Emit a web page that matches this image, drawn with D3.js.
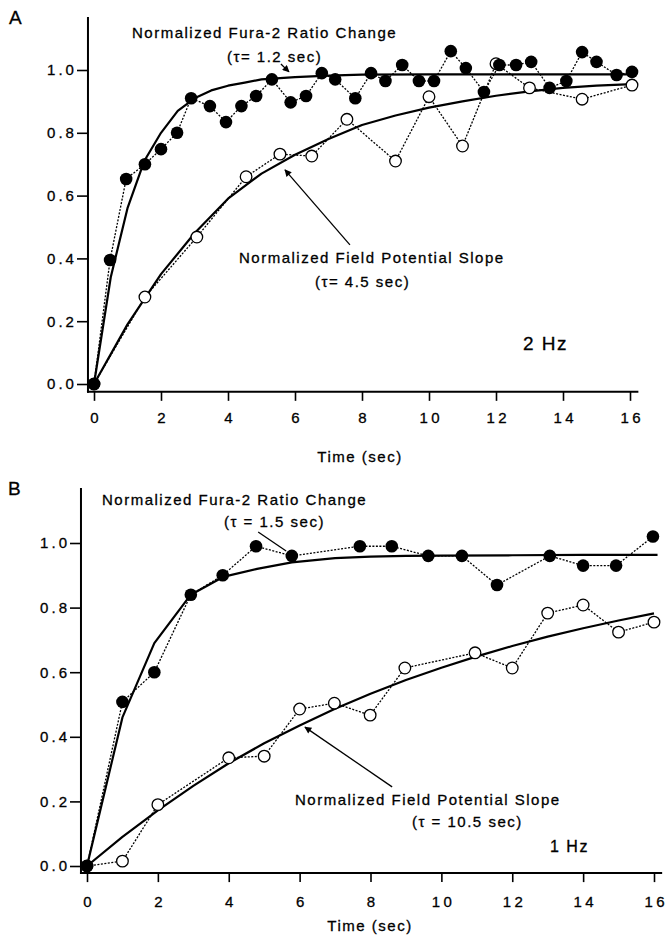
<!DOCTYPE html>
<html><head><meta charset="utf-8">
<script src="https://cdn.jsdelivr.net/npm/d3@7"></script>
<style>
body{margin:0;background:#fff;}
svg text{font-family:"Liberation Sans",Arial,Helvetica,sans-serif;fill:#000;stroke:#000;stroke-width:0.3px;}
</style></head><body>
<svg id="c" width="668" height="939"></svg>
<script>
// ---------- DATA ----------
const xTicks = [0, 2, 4, 6, 8, 10, 12, 14, 16];
const yTicks = [0, 0.2, 0.4, 0.6, 0.8, 1.0];
const yTickLabels = ["0.0", "0.2", "0.4", "0.6", "0.8", "1.0"];
const xLabel = "Time (sec)";

// Panel A (2 Hz)
const aFuraT = [0, 0.48, 0.96, 1.52, 2.0, 2.48, 2.9, 3.46, 3.94, 4.4, 4.84, 5.31, 5.87, 6.33, 6.8, 7.2, 7.8, 8.27, 8.7, 9.2, 9.7, 10.15, 10.65, 11.1, 11.64, 12.1, 12.6, 13.05, 13.6, 14.1, 14.57, 15.0, 15.6, 16.06];
const aFuraV = [0, 0.395, 0.653, 0.70, 0.748, 0.80, 0.91, 0.885, 0.834, 0.885, 0.917, 0.97, 0.897, 0.917, 0.99, 0.97, 0.91, 0.99, 0.965, 1.016, 0.965, 0.965, 1.06, 1.006, 0.93, 1.016, 1.016, 1.026, 0.943, 0.965, 1.057, 1.026, 0.984, 0.994];
const aFieldT = [0, 1.52, 3.07, 4.54, 5.55, 6.5, 7.55, 9.0, 10.0, 11.0, 12.0, 13.0, 14.57, 16.06];
const aFieldV = [0, 0.277, 0.468, 0.66, 0.732, 0.726, 0.843, 0.71, 0.915, 0.758, 1.02, 0.943, 0.907, 0.952];
const aFuraFitT = [0, 0.5, 1, 1.5, 2, 2.5, 3, 3.5, 4, 4.5, 5, 6, 7, 8, 10, 12, 14, 16.06];
const aFuraFitV = [0, 0.34, 0.56, 0.71, 0.80, 0.87, 0.91, 0.935, 0.95, 0.96, 0.97, 0.977, 0.982, 0.985, 0.986, 0.986, 0.986, 0.986];
const aFieldFitT = [0, 1, 2, 3, 4, 5, 6, 7, 8, 9, 10, 11, 12, 13, 14, 15, 16.06];
const aFieldFitV = [0, 0.19, 0.35, 0.48, 0.59, 0.67, 0.73, 0.78, 0.825, 0.855, 0.88, 0.90, 0.918, 0.932, 0.943, 0.95, 0.955];

// Panel B (1 Hz)
const bFuraT = [0, 1.0, 1.9, 2.93, 3.83, 4.77, 5.78, 7.7, 8.6, 9.63, 10.58, 11.57, 13.06, 14.0, 14.93, 15.97];
const bFuraV = [0, 0.508, 0.60, 0.84, 0.90, 0.99, 0.96, 0.99, 0.99, 0.96, 0.96, 0.87, 0.96, 0.93, 0.93, 1.02];
const bFieldT = [0, 1.0, 2.0, 4.0, 5.0, 6.0, 6.98, 7.99, 8.97, 10.95, 12.0, 13.0, 14.0, 15.0, 16.0];
const bFieldV = [0, 0.015, 0.19, 0.335, 0.34, 0.486, 0.504, 0.467, 0.613, 0.66, 0.613, 0.783, 0.808, 0.724, 0.755];
const bFuraFitT = [0, 1, 1.9, 2.93, 3.84, 4.8, 5.78, 7, 8, 9, 10, 12, 14, 16.1];
const bFuraFitV = [0, 0.46, 0.69, 0.84, 0.895, 0.92, 0.94, 0.953, 0.958, 0.96, 0.961, 0.962, 0.963, 0.963];
const bFieldFitT = [0, 1, 2, 3, 4, 5, 6, 7, 8, 9, 10, 11, 12, 13, 14, 15, 16];
const bFieldFitV = [0, 0.09, 0.172, 0.248, 0.318, 0.38, 0.435, 0.487, 0.533, 0.576, 0.614, 0.649, 0.681, 0.71, 0.736, 0.76, 0.782];

// ---------- LAYOUT ----------
const panels = [
  {
    letter: "A", letterPos: [9, 24],
    xr: [94, 630], yr: [384, 70], axisLeftT: -0.18, axisRightT: 16.25, axisTopV: 1.169, axisBotV: -0.025,
    fura: [aFuraT, aFuraV], field: [aFieldT, aFieldV], furaFit: [aFuraFitT, aFuraFitV], fieldFit: [aFieldFitT, aFieldFitV],
    texts: [
      {s: "Normalized Fura-2 Ratio Change", x: 132, y: 38, size: 15},
      {s: "(\u03C4= 1.2 sec)", x: 227, y: 62, size: 15},
      {s: "Normalized Field Potential Slope", x: 239, y: 263, size: 15},
      {s: "(\u03C4= 4.5 sec)", x: 315, y: 287, size: 15},
      {s: "2 Hz", x: 523, y: 350, size: 19}
    ],
    arrows: [
      {from: [5.58, 1.019], to: [5.82, 0.994], head: true},
      {from: [7.64, 0.443], to: [5.70, 0.682], head: true}
    ],
    xLabelPos: [360, 462], tickLabelY: 423
  },
  {
    letter: "B", letterPos: [8, 495],
    xr: [87, 654], yr: [866, 543], axisLeftT: -0.17, axisRightT: 16.23, axisTopV: 1.17, axisBotV: -0.022,
    fura: [bFuraT, bFuraV], field: [bFieldT, bFieldV], furaFit: [bFuraFitT, bFuraFitV], fieldFit: [bFieldFitT, bFieldFitV],
    texts: [
      {s: "Normalized Fura-2 Ratio Change", x: 102, y: 505, size: 15},
      {s: "(\u03C4 = 1.5 sec)", x: 224, y: 527, size: 15},
      {s: "Normalized Field Potential Slope", x: 295, y: 805, size: 15},
      {s: "(\u03C4 = 10.5 sec)", x: 412, y: 827, size: 15},
      {s: "1 Hz", x: 550, y: 852, size: 16}
    ],
    arrows: [
      {from: [4.83, 1.034], to: [5.62, 0.975], head: false},
      {from: [8.61, 0.245], to: [6.15, 0.43], head: true}
    ],
    xLabelPos: [370, 931], tickLabelY: 907
  }
];

const svg = d3.select("#c");
svg.append("rect").attr("width", 668).attr("height", 939).attr("fill", "#fff");
svg.append("defs").append("marker")
  .attr("id", "ah").attr("viewBox", "0 0 10 10").attr("refX", 9).attr("refY", 5)
  .attr("markerWidth", 9).attr("markerHeight", 7).attr("markerUnits", "userSpaceOnUse")
  .attr("orient", "auto")
  .append("path").attr("d", "M0,0 L10,5 L0,10 Z").attr("fill", "#000");

panels.forEach(p => {
  const g = svg.append("g");
  const x = d3.scaleLinear().domain([0, 16]).range(p.xr);
  const y = d3.scaleLinear().domain([0, 1]).range(p.yr);
  const ax = x(p.axisLeftT), ay = y(p.axisBotV);

  // axes lines
  g.append("line").attr("x1", ax).attr("x2", ax).attr("y1", y(p.axisTopV)).attr("y2", ay + 1)
    .attr("stroke", "#000").attr("stroke-width", 2);
  g.append("line").attr("x1", ax - 1).attr("x2", x(p.axisRightT)).attr("y1", ay).attr("y2", ay)
    .attr("stroke", "#000").attr("stroke-width", 2);

  // y axis ticks
  const yAx = g.append("g").attr("transform", `translate(${ax},0)`)
    .call(d3.axisLeft(y).tickValues(yTicks).tickFormat((d, i) => yTickLabels[i]).tickSize(11).tickPadding(3));
  yAx.select(".domain").remove();
  yAx.selectAll(".tick line").attr("stroke", "#000").attr("stroke-width", 1.6);
  yAx.selectAll(".tick text").attr("font-size", 15).style("letter-spacing", "3px")
    .attr("font-family", null).attr("fill", "#000").attr("dx", "3px");

  // x axis ticks
  const xAx = g.append("g").attr("transform", `translate(0,${ay})`)
    .call(d3.axisBottom(x).tickValues(xTicks).tickSize(9).tickPadding(0));
  xAx.select(".domain").remove();
  xAx.selectAll(".tick line").attr("stroke", "#000").attr("stroke-width", 1.6);
  xAx.selectAll(".tick text").attr("font-size", 15).style("letter-spacing", "3.5px")
    .attr("font-family", null).attr("fill", "#000").attr("dx", "1.75px")
    .attr("dy", null).attr("y", p.tickLabelY - ay);

  // x label
  g.append("text").attr("x", p.xLabelPos[0]).attr("y", p.xLabelPos[1]).attr("text-anchor", "middle")
    .attr("font-size", 15).style("letter-spacing", "1.5px").text(xLabel);

  // panel letter
  g.append("text").attr("x", p.letterPos[0]).attr("y", p.letterPos[1]).attr("font-size", 19).text(p.letter);

  const line = d3.line().x(d => x(d[0])).y(d => y(d[1]));
  const zip = (a) => a[0].map((t, i) => [t, a[1][i]]);

  // fits
  [p.furaFit, p.fieldFit].forEach(f => {
    g.append("path").attr("d", line(zip(f))).attr("fill", "none").attr("stroke", "#000")
      .attr("stroke-width", 2.2).attr("stroke-linejoin", "round");
  });
  // dotted data lines
  [p.fura, p.field].forEach(f => {
    g.append("path").attr("d", line(zip(f))).attr("fill", "none").attr("stroke", "#000")
      .attr("stroke-width", 1.3).attr("stroke-dasharray", "2,1.5");
  });
  // open circles
  g.selectAll(".open").data(zip(p.field)).enter().append("circle")
    .attr("cx", d => x(d[0])).attr("cy", d => y(d[1])).attr("r", 5.8)
    .attr("fill", "#fff").attr("stroke", "#000").attr("stroke-width", 1.3);
  // filled circles
  g.selectAll(".fill").data(zip(p.fura)).enter().append("circle")
    .attr("cx", d => x(d[0])).attr("cy", d => y(d[1])).attr("r", 6.3).attr("fill", "#000");

  // annotation text
  p.texts.forEach(t => {
    g.append("text").attr("x", t.x).attr("y", t.y).attr("font-size", t.size)
      .style("letter-spacing", "1.5px").text(t.s);
  });
  // arrows
  p.arrows.forEach(a => {
    const l = g.append("line").attr("x1", x(a.from[0])).attr("y1", y(a.from[1]))
      .attr("x2", x(a.to[0])).attr("y2", y(a.to[1])).attr("stroke", "#000").attr("stroke-width", 1.3);
    if (a.head) l.attr("marker-end", "url(#ah)");
  });
});
</script>
</body></html>
